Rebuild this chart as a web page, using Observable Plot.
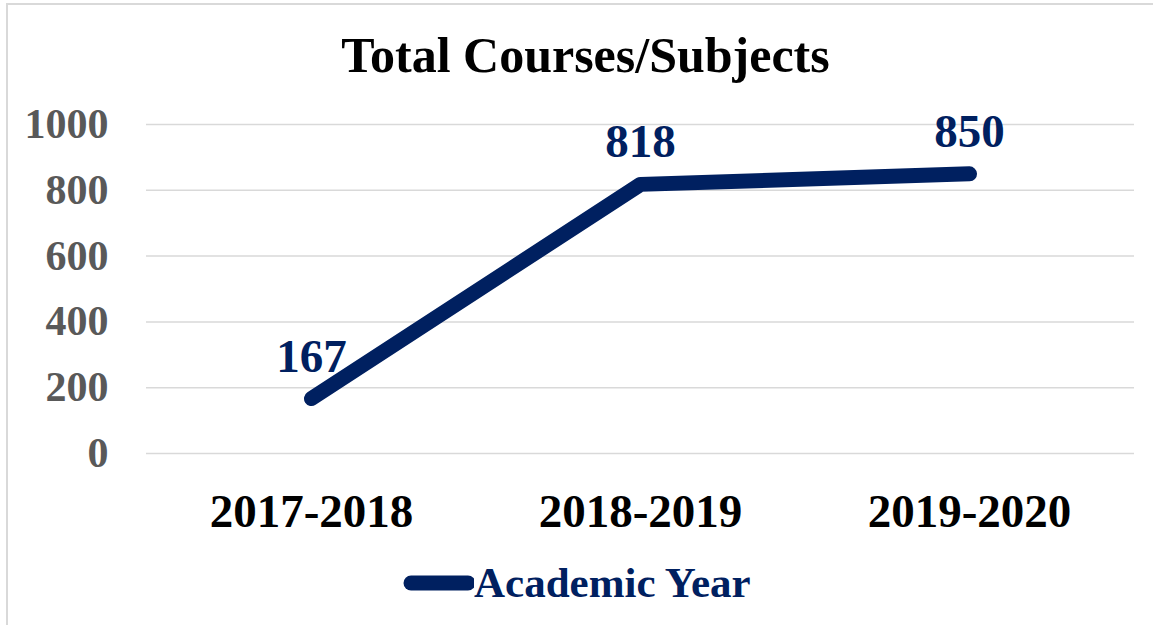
<!DOCTYPE html>
<html>
<head>
<meta charset="utf-8">
<script src="https://cdn.jsdelivr.net/npm/d3@7"></script>
<script src="https://cdn.jsdelivr.net/npm/@observablehq/plot@0.6"></script>
<style>
  html, body { margin: 0; padding: 0; background: #fff; overflow: hidden; }
  #wrap { position: relative; width: 1153px; height: 625px; overflow: hidden; font-family: "Liberation Serif", "Times New Roman", serif; }
  #frame { position: absolute; left: 6px; top: 3px; width: 1180px; height: 660px; border: 2px solid #d9d9d9; box-sizing: border-box; }
  #title { position: absolute; left: 0; width: 1153px; top: 26px; text-align: center; font-weight: bold; font-size: 50px; line-height: 58px; color: #000; padding-left: 18px; box-sizing: border-box; }
  #chart { position: absolute; left: 0; top: 95px; }
  #legend { position: absolute; left: 402px; top: 558px; display: flex; align-items: center; font-weight: bold; font-size: 43px; color: #002060; line-height: 50px; }
</style>
</head>
<body>
<div id="wrap">
  <div id="frame"></div>
  <div id="title"></div>
  <div id="chart"></div>
  <div id="legend"></div>
</div>
<script>
const title = "Total Courses/Subjects";
const years = ["2017-2018", "2018-2019", "2019-2020"];
const courses = [167, 818, 850];
const yTicks = [0, 200, 400, 600, 800, 1000];
const seriesName = "Academic Year";

const navy = "#002060";
const data = years.map((y, i) => ({year: y, value: courses[i]}));

document.getElementById("title").textContent = title;

const plot = Plot.plot({
  width: 1153,
  height: 450,
  marginLeft: 146,
  marginRight: 19,
  marginTop: 29,
  marginBottom: 92,
  style: {fontFamily: "'Liberation Serif', 'Times New Roman', serif", background: "transparent", overflow: "visible"},
  x: {type: "point", domain: years, padding: 0.5, align: 0.5},
  y: {domain: [0, 1000], ticks: yTicks},
  marks: [
    Plot.ruleY(yTicks, {stroke: "#d9d9d9", strokeWidth: 1.5}),
    Plot.axisY({ticks: yTicks, tickFormat: d => String(d), tickSize: 0, tickPadding: 38, fontSize: 42, fontWeight: "bold", fill: "#595959", label: null}),
    Plot.axisX({tickSize: 0, tickPadding: 40, fontSize: 47, fontWeight: "bold", fill: "#000", label: null}),
    Plot.line(data, {x: "year", y: "value", stroke: navy, strokeWidth: 15, strokeLinecap: "round", strokeLinejoin: "round"}),
    Plot.text(data, {x: "year", y: "value", text: d => String(d.value), fill: navy, fontSize: 47, fontWeight: "bold", dy: -27, lineAnchor: "bottom"})
  ]
});
document.getElementById("chart").appendChild(plot);

const legend = document.getElementById("legend");
legend.innerHTML = `<svg width="72" height="20" style="margin-right:0px"><line x1="9" y1="10" x2="66" y2="10" stroke="${navy}" stroke-width="15" stroke-linecap="round"/></svg><span></span>`;
legend.querySelector("span").textContent = seriesName;
</script>
</body>
</html>
